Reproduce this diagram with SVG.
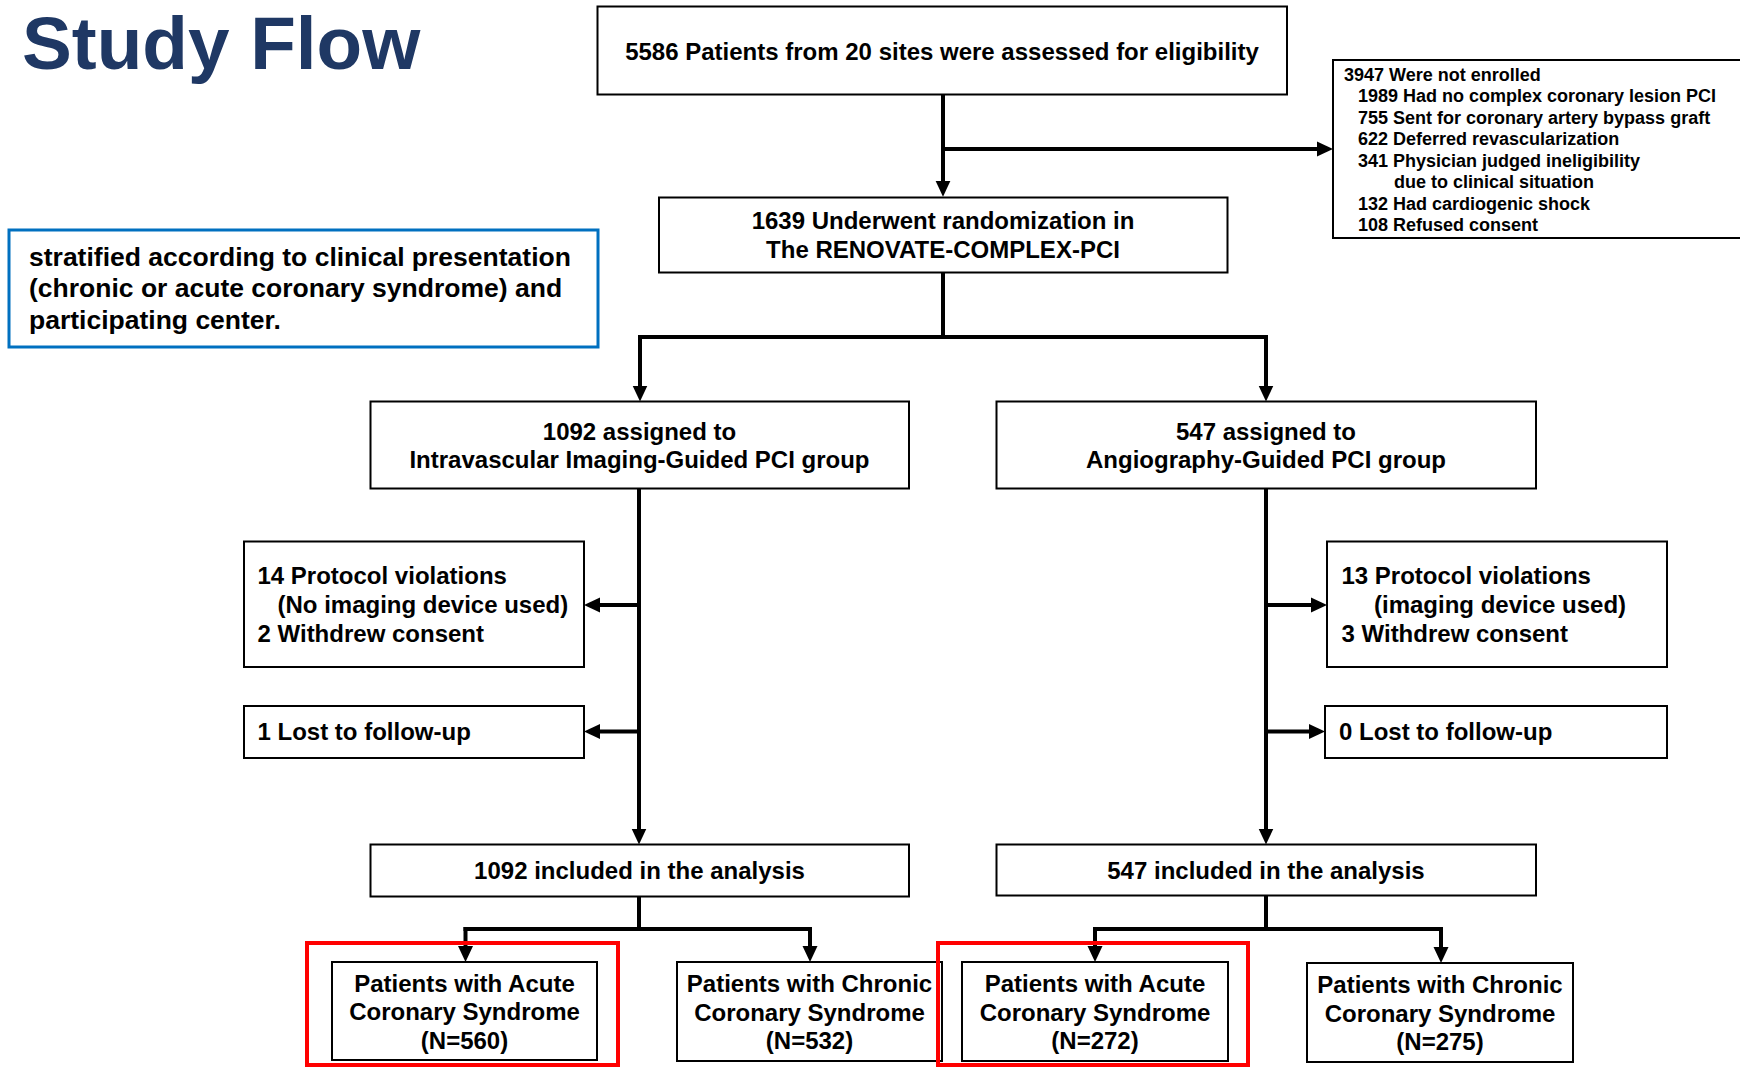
<svg xmlns="http://www.w3.org/2000/svg" width="1740" height="1068" viewBox="0 0 1740 1068">
  <style>
    .box { fill: #ffffff; stroke: #000000; stroke-width: 2; }
    .red { fill: none; stroke: #ff0000; stroke-width: 4; }
    .note { fill: #ffffff; stroke: #0070c0; stroke-width: 3; }
    .t { font-family: "Liberation Sans", Arial, Helvetica, sans-serif; font-weight: bold; fill: #000000; }
    .m { font-size: 24px; }
    .c { text-anchor: middle; }
    .s { font-size: 18px; }
    .n { font-size: 26.5px; }
    .title { font-family: "Liberation Sans", Arial, Helvetica, sans-serif; font-weight: bold; font-size: 74.7px; fill: #1f3864; }
    .conn { fill: none; stroke: #000000; stroke-width: 4; stroke-linecap: butt; stroke-linejoin: miter; }
  </style>
  <defs>
    <marker id="arrow" viewBox="0 0 16 16" markerWidth="16" markerHeight="16" refX="6" refY="8" orient="auto" markerUnits="userSpaceOnUse">
      <path d="M0,0.5 L16,8 L0,15.5 z" fill="#000000"/>
    </marker>
  </defs>
  <rect x="0" y="0" width="1740" height="1068" fill="#ffffff"/>

  <g id="title">
    <text class="title" x="22" y="68.5">Study Flow</text>
  </g>

  <g id="connectors">
    <path class="conn" d="M943,94.3 V186.7" marker-end="url(#arrow)"/>
    <path class="conn" d="M941,149 H1323" marker-end="url(#arrow)"/>
    <path class="conn" d="M943,272.7 V337"/>
    <path class="conn" d="M638,337 H1268"/>
    <path class="conn" d="M640,335 V391.5" marker-end="url(#arrow)"/>
    <path class="conn" d="M1266,335 V391.5" marker-end="url(#arrow)"/>
    <path class="conn" d="M639,488.5 V834.5" marker-end="url(#arrow)"/>
    <path class="conn" d="M641,605 H594" marker-end="url(#arrow)"/>
    <path class="conn" d="M641,731.5 H594" marker-end="url(#arrow)"/>
    <path class="conn" d="M1266,488.5 V834.5" marker-end="url(#arrow)"/>
    <path class="conn" d="M1264,605 H1317" marker-end="url(#arrow)"/>
    <path class="conn" d="M1264,731.5 H1315" marker-end="url(#arrow)"/>
    <path class="conn" d="M639,896.5 V929"/>
    <path class="conn" d="M463.5,929 H812"/>
    <path class="conn" d="M465.5,927 V952" marker-end="url(#arrow)"/>
    <path class="conn" d="M810,927 V952" marker-end="url(#arrow)"/>
    <path class="conn" d="M1266,895.5 V929"/>
    <path class="conn" d="M1093,929 H1443"/>
    <path class="conn" d="M1095,927 V952" marker-end="url(#arrow)"/>
    <path class="conn" d="M1441,927 V953" marker-end="url(#arrow)"/>
  </g>

  <g id="node-assessed">
    <rect class="box" x="597.5" y="6.5" width="689.5" height="88"/>
    <text class="t m c" x="942" y="60">5586 Patients from 20 sites were assessed for eligibility</text>
  </g>

  <g id="node-not-enrolled">
    <rect class="box" x="1333" y="60" width="420" height="178"/>
    <text class="t s" x="1344" y="80.5">3947 Were not enrolled</text>
    <text class="t s" x="1358" y="102">1989 Had no complex coronary lesion PCI</text>
    <text class="t s" x="1358" y="123.5">755 Sent for coronary artery bypass graft</text>
    <text class="t s" x="1358" y="145">622 Deferred revascularization</text>
    <text class="t s" x="1358" y="166.5">341 Physician judged ineligibility</text>
    <text class="t s" x="1394" y="188">due to clinical situation</text>
    <text class="t s" x="1358" y="209.5">132 Had cardiogenic shock</text>
    <text class="t s" x="1358" y="231">108 Refused consent</text>
  </g>

  <g id="node-stratified">
    <rect class="note" x="9" y="230" width="589" height="117"/>
    <text class="t n" x="29" y="265.5">stratified according to clinical presentation</text>
    <text class="t n" x="29" y="297">(chronic or acute coronary syndrome) and</text>
    <text class="t n" x="29" y="328.5">participating center.</text>
  </g>

  <g id="node-randomized">
    <rect class="box" x="659" y="197.5" width="568.5" height="75"/>
    <text class="t m c" x="943" y="229">1639 Underwent randomization in</text>
    <text class="t m c" x="943" y="257.5">The RENOVATE-COMPLEX-PCI</text>
  </g>

  <g id="node-imaging-group">
    <rect class="box" x="370.5" y="401.5" width="538.5" height="87"/>
    <text class="t m c" x="639.5" y="439.5">1092 assigned to</text>
    <text class="t m c" x="639.5" y="468">Intravascular Imaging-Guided PCI group</text>
  </g>

  <g id="node-angio-group">
    <rect class="box" x="996.5" y="401.5" width="539.5" height="87"/>
    <text class="t m c" x="1266" y="439.5">547 assigned to</text>
    <text class="t m c" x="1266" y="468">Angiography-Guided PCI group</text>
  </g>

  <g id="node-imaging-violations">
    <rect class="box" x="244" y="541.5" width="340" height="125.5"/>
    <text class="t m" x="257.5" y="583.5">14 Protocol violations</text>
    <text class="t m" x="277.5" y="612.5">(No imaging device used)</text>
    <text class="t m" x="257.5" y="641.5">2 Withdrew consent</text>
  </g>

  <g id="node-imaging-lost">
    <rect class="box" x="244" y="706" width="340" height="52"/>
    <text class="t m" x="257.5" y="740">1 Lost to follow-up</text>
  </g>

  <g id="node-angio-violations">
    <rect class="box" x="1327" y="541.5" width="340" height="125.5"/>
    <text class="t m" x="1341.5" y="583.5">13 Protocol violations</text>
    <text class="t m" x="1374" y="612.5">(imaging device used)</text>
    <text class="t m" x="1341.5" y="641.5">3 Withdrew consent</text>
  </g>

  <g id="node-angio-lost">
    <rect class="box" x="1325" y="706" width="342" height="52"/>
    <text class="t m" x="1339" y="740">0 Lost to follow-up</text>
  </g>

  <g id="node-imaging-included">
    <rect class="box" x="370.5" y="844.5" width="538.5" height="52"/>
    <text class="t m c" x="639.5" y="879">1092 included in the analysis</text>
  </g>

  <g id="node-angio-included">
    <rect class="box" x="996.5" y="844.5" width="539.5" height="51"/>
    <text class="t m c" x="1266" y="878.5">547 included in the analysis</text>
  </g>

  <g id="node-imaging-acs">
    <rect class="red" x="307" y="943" width="311" height="122"/>
    <rect class="box" x="332" y="962" width="265" height="98"/>
    <text class="t m c" x="464.5" y="991.5">Patients with Acute</text>
    <text class="t m c" x="464.5" y="1020">Coronary Syndrome</text>
    <text class="t m c" x="464.5" y="1048.5">(N=560)</text>
  </g>

  <g id="node-imaging-ccs">
    <rect class="box" x="677" y="962" width="265" height="99"/>
    <text class="t m c" x="809.5" y="992">Patients with Chronic</text>
    <text class="t m c" x="809.5" y="1020.5">Coronary Syndrome</text>
    <text class="t m c" x="809.5" y="1049">(N=532)</text>
  </g>

  <g id="node-angio-acs">
    <rect class="red" x="938" y="943" width="310" height="122"/>
    <rect class="box" x="962" y="962" width="266" height="99"/>
    <text class="t m c" x="1095" y="992">Patients with Acute</text>
    <text class="t m c" x="1095" y="1020.5">Coronary Syndrome</text>
    <text class="t m c" x="1095" y="1049">(N=272)</text>
  </g>

  <g id="node-angio-ccs">
    <rect class="box" x="1307" y="963" width="266" height="99"/>
    <text class="t m c" x="1440" y="993">Patients with Chronic</text>
    <text class="t m c" x="1440" y="1021.5">Coronary Syndrome</text>
    <text class="t m c" x="1440" y="1050">(N=275)</text>
  </g>
</svg>
